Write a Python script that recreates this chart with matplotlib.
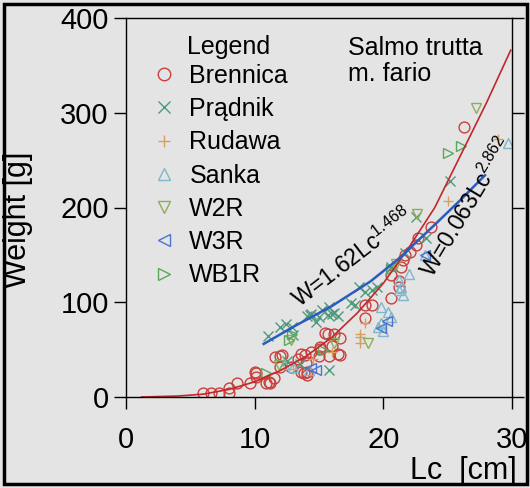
import matplotlib
matplotlib.use("Agg")
import matplotlib.pyplot as plt
from matplotlib.patches import Rectangle
from matplotlib.lines import Line2D

plt.rcParams['font.family'] = ['Liberation Sans', 'DejaVu Sans']
plt.rcParams['mathtext.default'] = 'regular'

# ---- data ----
brennica_x = [6.0, 6.6, 7.2, 8.0, 8.0, 8.6, 9.6, 10.0, 10.1, 10.1, 10.9, 11.1, 11.2, 11.5, 11.6, 12.0,
              12.0, 12.1, 12.8, 13.4, 13.6, 13.6, 13.8, 13.9, 14.1, 14.1, 14.0, 14.4, 15.0, 15.1, 15.1,
              15.5, 15.7, 15.8, 16.0, 16.2, 16.5, 16.6, 16.6, 18.6, 18.6, 19.1, 20.6, 20.6, 21.2,
              21.2, 21.4, 21.5, 21.7, 22.1, 22.5, 22.7, 23.7, 26.3]
brennica_y = [4, 4, 4, 4, 9, 15, 15, 26, 21, 25, 15, 16, 15, 20, 42, 32,
              43, 44, 32, 40, 45, 26, 25, 44, 23, 26, 36, 47, 43, 51, 53,
              68, 67, 43, 54, 67, 45, 62, 44, 97, 83, 97, 104, 129, 116,
              122, 137, 145, 150, 153, 160, 168, 179, 285]
pradnik_x = [11.0, 12.0, 12.4, 12.9, 13.0, 14.1, 14.3, 14.4, 14.8, 15.0, 15.2, 15.7, 15.8, 16.0,
             16.2, 16.5, 17.5, 17.8, 18.1, 18.6, 19.1, 19.5, 20.6, 21.7, 22.5, 23.3, 25.2, 15.8,
             13.5, 12.5]
pradnik_y = [64, 74, 77, 74, 65, 86, 87, 88, 79, 84, 92, 87, 95, 88,
             89, 86, 99, 97, 116, 111, 113, 116, 137, 152, 190, 168, 228, 28,
             35, 38]
rudawa_x = [18.2, 18.2, 18.2, 18.6, 16.0, 25.0, 28.9, 14.5, 13.0]
rudawa_y = [67, 63, 57, 78, 47, 207, 272, 40, 30]
sanka_x = [19.8, 20.4, 20.6, 19.8, 19.6, 20.0, 21.2, 21.4, 21.5, 21.2, 23.2, 29.7, 14.2, 13.0,
           12.3, 22.0]
sanka_y = [95, 90, 84, 78, 74, 70, 123, 116, 108, 113, 150, 268, 28, 32,
           35, 130]
w2r_x = [27.2, 22.6, 12.8, 18.8, 11.9, 21.0, 16.2]
w2r_y = [305, 193, 60, 57, 34, 140, 57]
w3r_x = [23.2, 14.4, 19.8, 14.8, 20.3]
w3r_y = [150, 31, 73, 28, 80]
wb1r_x = [25.0, 26.0, 12.7, 12.9, 20.6, 10.9, 15.3]
wb1r_y = [258, 265, 60, 67, 135, 25, 50]

# fitted curves
red_curve_x = [1.2, 4, 6, 8, 10, 12, 14, 16, 18, 20, 22, 24, 26, 28, 29.9]
red_curve_y = [0, 1, 3, 8, 16, 28, 43, 63, 89, 120, 158, 200, 255, 310, 366]
blue_curve_x = [10.7, 13, 16, 19, 21.2, 23.7, 26, 27.9]
blue_curve_y = [56, 74, 96, 122, 146, 178, 208, 234]

series = [
    ("Brennica", brennica_x, brennica_y, 'o', '#c8403c'),
    ("Prądnik", pradnik_x, pradnik_y, 'x', '#4e9a7c'),
    ("Rudawa", rudawa_x, rudawa_y, '+', '#d6a060'),
    ("Sanka", sanka_x, sanka_y, '^', '#80b6cc'),
    ("W2R", w2r_x, w2r_y, 'v', '#8eae56'),
    ("W3R", w3r_x, w3r_y, '<', '#4c74cc'),
    ("WB1R", wb1r_x, wb1r_y, '>', '#58a85c'),
]

xticks = [0, 10, 20, 30]
yticks = [0, 100, 200, 300, 400]

bg = '#e4e4e4'
fig = plt.figure(figsize=(5.30, 4.88), dpi=100, facecolor=bg)
ax = fig.add_axes([126 / 530, 1 - 397 / 488, 386 / 530, 379 / 488])
ax.set_facecolor(bg)

ms = 7.8
handles = []
for name, xs, ys, mk, col in series:
    if mk in ('x', '+'):
        ax.plot(xs, ys, linestyle='none', marker=mk, markersize=ms, color=col, mew=1.0)
    else:
        ax.plot(xs, ys, linestyle='none', marker=mk, markersize=ms, markerfacecolor='none',
                markeredgecolor=col, mew=1.0)
    handles.append(Line2D([], [], linestyle='none', marker=mk, markersize=9,
                          markerfacecolor='none' if mk not in ('x', '+') else col,
                          markeredgecolor=col, color=col, mew=1.0, label=name))

ax.plot(red_curve_x, red_curve_y, color='#c0282c', lw=1.2)
ax.plot(blue_curve_x, blue_curve_y, color='#2a5cc0', lw=1.8)

ax.set_xlim(0, 30)
ax.set_ylim(0, 400)
ax.set_xticks(xticks)
ax.set_yticks(yticks)
ax.tick_params(axis='both', direction='out', length=8.5, width=1.0, labelsize=21, color='black')
ax.tick_params(axis='x', pad=12.5)
ax.tick_params(axis='y', pad=4, right=True)
for s in ax.spines.values():
    s.set_linewidth(1.0)

leg = ax.legend(handles=handles, loc='upper left', bbox_to_anchor=(0.067, 0.879),
                frameon=False, fontsize=18, handlelength=1.0, handletextpad=0.5,
                borderpad=0, borderaxespad=0, labelspacing=0.37)
ax.text(0.158, 0.923, "Legend", transform=ax.transAxes, fontsize=18, va='center', ha='left')
ax.text(0.575, 0.952, "Salmo trutta\nm. fario", transform=ax.transAxes, fontsize=18,
        va='top', ha='left', linespacing=1.1)

ax.text(17.6, 147, r"W=1.62Lc$^{1.468}$", fontsize=16.5, rotation=37.5,
        rotation_mode='anchor', ha='center', va='center')
ax.text(26.5, 200, r"W=0.063Lc$^{2.862}$", fontsize=16.5, rotation=59,
        rotation_mode='anchor', ha='center', va='center')

fig.text(18 / 530, 1 - 220 / 488, "Weight [g]", rotation=90, fontsize=22,
         ha='center', va='center')
fig.text(517 / 530, 1 - 471 / 488, "Lc  [cm]", fontsize=22, ha='right', va='center')

fig.add_artist(Rectangle((4 / 530, 4 / 488), 523 / 530, 480 / 488, transform=fig.transFigure,
                         fill=False, edgecolor='black', linewidth=2.5, zorder=10))

fig.savefig("out.png", dpi=100, facecolor=bg)
